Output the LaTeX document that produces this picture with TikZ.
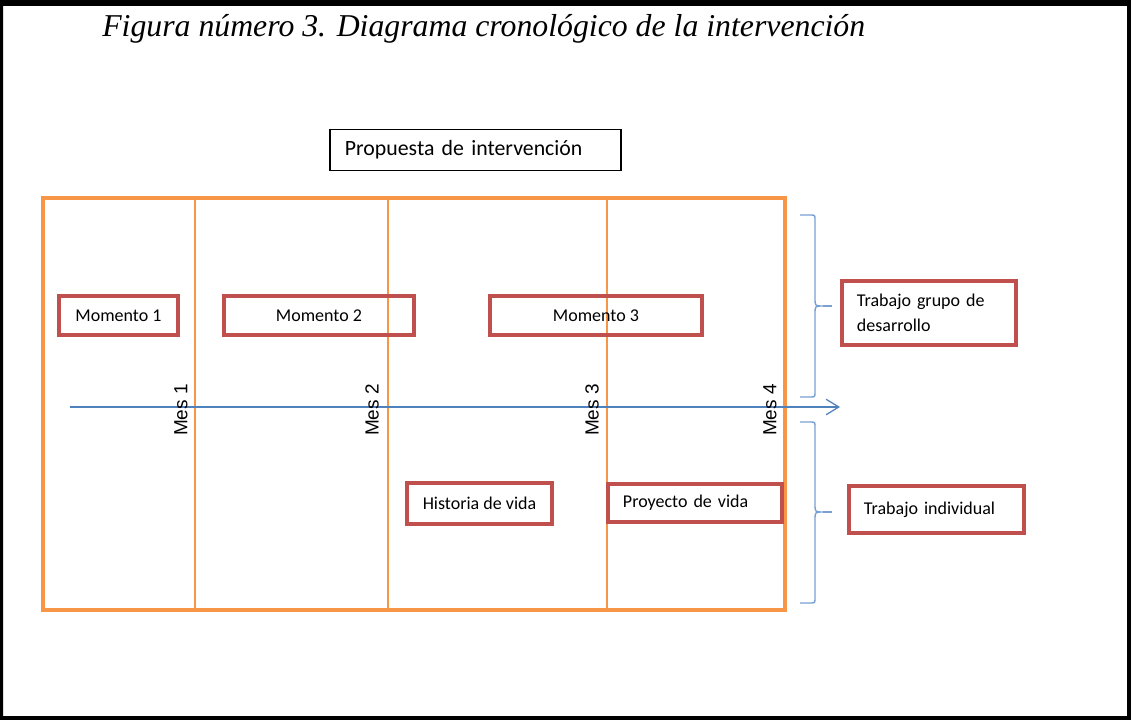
\documentclass[tikz,border=0pt]{standalone}
\usepackage{fontspec}
\setmainfont{Liberation Serif}
\newfontfamily\calibri{Carlito}
\newfontfamily\arialf{Liberation Sans}
\usetikzlibrary{positioning, arrows.meta}
\definecolor{naranja}{RGB}{247,150,70}
\definecolor{rojo}{RGB}{192,80,77}
\definecolor{azul}{RGB}{79,129,189}
\definecolor{azulclaro}{RGB}{120,160,210}

\begin{document}
\begin{tikzpicture}[x=0.025cm, y=0.025cm,
	caja/.style={draw=rojo, line width=2.8pt, inner sep=0pt, minimum height=0.975cm, font=\calibri\fontsize{12.8}{17.8}\selectfont},
	cajaizq/.style={caja, align=left, text width=3.6cm, inner xsep=0.375cm},
	mes/.style={rotate=90, font=\arialf\fontsize{13.5}{15}\selectfont},
	llave/.style={azulclaro, line width=1pt}]
	\useasboundingbox (0,0) rectangle (1131,-720);
	\fill[even odd rule] (0,0) rectangle (1131,-720) (3,-6) rectangle (1127,-716);
	\node[anchor=base west, inner sep=0pt, font=\itshape\fontsize{22.6}{26}\selectfont] (titulo) at (102,-37) {Figura número 3. Diagrama cronológico de la intervención};
	\node[draw, line width=1pt, align=left, text width=6.525cm, inner xsep=0.375cm, minimum height=1.025cm, font=\calibri\fontsize{15.5}{18}\selectfont] (propuesta) at (475.5,-150) {Propuesta de intervención};
	\node[draw=naranja, line width=2.8pt, minimum width=18.55cm, minimum height=10.3cm] (marco) at (414,-404) {};
	\foreach \x in {195,388,607}
		\draw[naranja, line width=0.9pt] (marco.north -| \x,0) -- (marco.south -| \x,0);
	\node[caja, minimum width=2.975cm] (m1) at (118.5,-315.5) {Momento 1};
	\node[caja, minimum width=4.75cm] (m2) at (319,-315.5) {Momento 2};
	\node[caja, minimum width=5.3cm] (m3) at (596,-315.5) {Momento 3};
	\node[caja, minimum width=3.625cm, minimum height=1.025cm] (historia) at (479.5,-503.5) {Historia de vida};
	\node[cajaizq, minimum height=0.95cm] (proyecto) at (695,-503) {Proyecto de vida};
	\node[cajaizq, minimum height=1.6cm] (grupo) at (929,-313) {Trabajo grupo de\\desarrollo};
	\node[cajaizq, text width=3.625cm, minimum height=1.175cm] (individual) at (936.5,-509.5) {Trabajo individual};
	\coordinate (t0) at (70,-407);
	\coordinate (t1) at (840,-407);
	\draw[azul, line width=0.9pt, -{Straight Barb[length=9pt, width=11pt]}] (t0) -- (t1);
	\foreach \x/\n in {181/1, 372/2, 592/3, 770/4}
		\node[mes] (mes\n) at (\x,-410) {Mes \n};
	\foreach \a/\m/\b/\n in {215/306/397/g, 422/512/603/i} {
		\coordinate (\n1) at (800,-\a);
		\coordinate (\n2) at (800,-\b);
		\coordinate (\n0) at (832,-\m);
		\coordinate (\n3) at (823,-\m);
		\draw[llave] (\n1) -- (810,-\a) .. controls (815,-\a) .. (815,-\a-5) -- (815,-\m+8)
			.. controls (815,-\m) .. (\n3) .. controls (815,-\m) .. (815,-\m-8)
			-- (815,-\b+5) .. controls (815,-\b) .. (810,-\b) -- (\n2);
		\draw[llave] (\n3) -- (\n0);
	}
\end{tikzpicture}
\end{document}
